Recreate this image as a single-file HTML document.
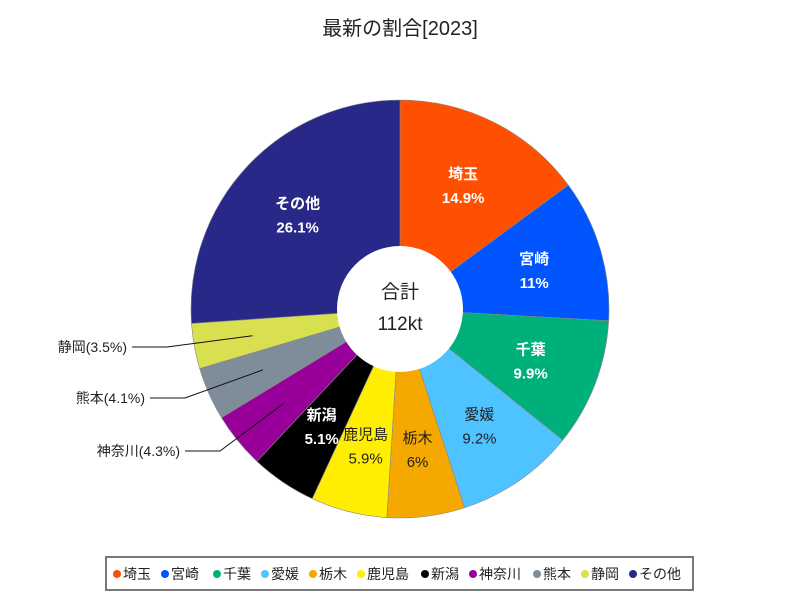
<!DOCTYPE html>
<html><head><meta charset="utf-8"><style>
body{margin:0;background:#fff;font-family:"Liberation Sans","Noto Sans CJK JP",sans-serif}
svg text{font-family:"Liberation Sans","Noto Sans CJK JP",sans-serif}
</style></head><body>
<svg width="800" height="600">
<rect width="800" height="600" fill="#fff"/>
<text x="400" y="35" font-size="20" text-anchor="middle" fill="#222">最新の割合[2023]</text>
<g id="pie"></g>
<circle cx="400" cy="309" r="63" fill="#fff"/>
<text x="400" y="298" font-size="19" text-anchor="middle" fill="#222">合計</text>
<text x="400" y="330" font-size="19" text-anchor="middle" fill="#222">112kt</text>
<g id="legend"></g>
</svg>
<script>
const categories=["埼玉","宮崎","千葉","愛媛","栃木","鹿児島","新潟","神奈川","熊本","静岡","その他"];
const values=[14.9,11,9.9,9.2,6,5.9,5.1,4.3,4.1,3.5,26.1];
const labels=["14.9%","11%","9.9%","9.2%","6%","5.9%","5.1%","4.3%","4.1%","3.5%","26.1%"];
const colors=["#ff4f00","#0055ff","#00b07a","#4fc3ff","#f5a800","#ffee00","#000000","#990099","#7f8c99","#d8e04f","#282888"];
const whiteText=[true,true,true,false,false,false,true,false,false,false,true];
const outside=[false,false,false,false,false,false,false,true,true,true,false];
const NS="http://www.w3.org/2000/svg";
const cx=400,cy=309,R=209,LR=140;
const pie=document.getElementById('pie');
const total=values.reduce((a,b)=>a+b,0);
function pt(a,r){return [cx+r*Math.sin(a),cy-r*Math.cos(a)];}
let acc=0;
const outY=[451,398,347];let oi=0;
values.forEach((v,i)=>{
  const a0=acc/total*2*Math.PI;acc+=v;const a1=acc/total*2*Math.PI;
  const p0=pt(a0,R),p1=pt(a1,R);
  const p=document.createElementNS(NS,'path');
  p.setAttribute('d',`M${cx},${cy}L${p0[0]},${p0[1]}A${R},${R} 0 ${a1-a0>Math.PI?1:0} 1 ${p1[0]},${p1[1]}Z`);
  p.setAttribute('fill',colors[i]);p.setAttribute('stroke','#888');p.setAttribute('stroke-width','0.6');
  
  
  pie.appendChild(p);
});
acc=0;
values.forEach((v,i)=>{
  const am=(acc+v/2)/total*2*Math.PI;acc+=v;
  if(outside[i]){
    const e=pt(am,150);const y=outY[oi++];
    const tx=i==7?180:(i==8?145:127);
    const l=document.createElementNS(NS,'polyline');
    l.setAttribute('points',`${tx+5},${y} ${tx+40},${y} ${e[0]},${e[1]}`);
    l.setAttribute('fill','none');l.setAttribute('stroke','#111');l.setAttribute('stroke-width','1');
    
    
    pie.appendChild(l);
    const t=document.createElementNS(NS,'text');
    t.setAttribute('x',tx);t.setAttribute('y',y+5);t.setAttribute('text-anchor','end');t.setAttribute('font-size','14');t.setAttribute('fill','#222');
    t.textContent=categories[i]+'('+labels[i]+')';
    
    
    pie.appendChild(t);
  } else {
    const c=pt(am,LR);
    const t=document.createElementNS(NS,'text');
    t.setAttribute('x',c[0]);t.setAttribute('text-anchor','middle');t.setAttribute('font-size','15');
    t.setAttribute('fill',whiteText[i]?'#fff':'#222');
    if(whiteText[i])t.setAttribute('font-weight','bold');
    const s1=document.createElementNS(NS,'tspan');s1.setAttribute('x',c[0]);s1.setAttribute('y',c[1]-5);s1.textContent=categories[i];
    const s2=document.createElementNS(NS,'tspan');s2.setAttribute('x',c[0]);s2.setAttribute('y',c[1]+19);s2.textContent=labels[i];
    t.appendChild(s1);t.appendChild(s2);
    
    
    pie.appendChild(t);
  }
});
const lg=document.getElementById('legend');
const box=document.createElementNS(NS,'rect');
box.setAttribute('x',106);box.setAttribute('y',557);box.setAttribute('width',587);box.setAttribute('height',33);
box.setAttribute('fill','#fff');box.setAttribute('stroke','#777');box.setAttribute('stroke-width','2');


lg.appendChild(box);
const widths=[48,52,48,48,48,64,48,64,48,48,58];
let x=112;
categories.forEach((c,i)=>{
  const g=document.createElementNS(NS,'g');
  
  
  const d=document.createElementNS(NS,'circle');d.setAttribute('cx',x+5);d.setAttribute('cy',574);d.setAttribute('r',4);d.setAttribute('fill',colors[i]);
  const t=document.createElementNS(NS,'text');t.setAttribute('x',x+11);t.setAttribute('y',579);t.setAttribute('font-size','14');t.setAttribute('fill','#222');t.textContent=c;
  g.appendChild(d);g.appendChild(t);lg.appendChild(g);
  x+=widths[i];
});
</script>
</body></html>
